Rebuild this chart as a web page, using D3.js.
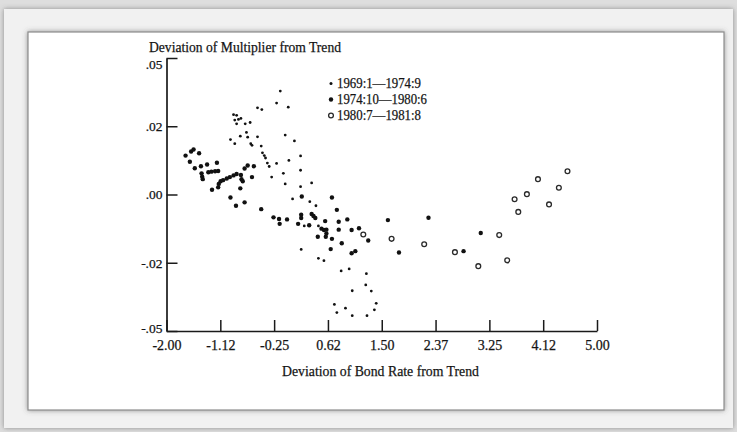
<!DOCTYPE html>
<html>
<head>
<meta charset="utf-8">
<script src="https://cdn.jsdelivr.net/npm/d3@7"></script>
<style>
  html, body { margin: 0; padding: 0; background: #dedede; }
  svg { display: block; }
  .axis path, .axis line { stroke: #1a1a1a; }
  .axis path { stroke-width: 1.7; }
  .axis line { stroke-width: 1.5; }
  .axis text, .title, .legend text {
    fill: #141414;
    stroke: #141414;
    stroke-width: 0.25;
    font-family: "Liberation Serif", "Times New Roman", serif;
  }
</style>
</head>
<body>
<svg id="chart" width="737" height="432"></svg>
<script>
// x: deviation of bond rate from trend, y: deviation of multiplier from trend
var early = [ // 1969:1-1974:9, small dots
  [-0.15, 0.0303], [-0.21, 0.0268], [-0.02, 0.0256], [-0.52, 0.0254], [-0.45, 0.0249],
  [-0.91, 0.0234], [-0.86, 0.0232], [-0.89, 0.0218], [-0.83, 0.0220], [-0.79, 0.0223],
  [-0.86, 0.0207], [-0.72, 0.0207], [-0.64, 0.0211], [-0.96, 0.0161], [-0.89, 0.0149],
  [-0.80, 0.0171], [-0.70, 0.0182], [-0.68, 0.0168], [-0.52, 0.0169], [-0.63, 0.0149],
  [-0.61, 0.0144], [-0.46, 0.0142], [-0.07, 0.0174], [0.08, 0.0157], [-0.44, 0.0122],
  [-0.41, 0.0114], [-0.39, 0.0107], [-0.36, 0.0092], [-0.33, 0.0082], [-0.21, 0.0091],
  [-0.29, 0.0051], [-0.10, 0.0062], [-0.07, 0.0031], [-0.01, 0.0100], [0.18, 0.0113],
  [0.18, 0.0071], [0.18, 0.0023], [0.36, 0.0034], [0.05, -0.0013], [0.33, -0.0021],
  [0.43, -0.0033], [0.24, -0.0092], [0.47, -0.0092], [0.19, -0.0161], [0.47, -0.0187],
  [0.56, -0.0194], [0.84, -0.0224], [0.97, -0.0218], [1.25, -0.0232], [1.24, -0.0265],
  [1.02, -0.0282], [1.33, -0.0283], [0.73, -0.0322], [0.77, -0.0346], [0.91, -0.0333],
  [1.02, -0.0355], [1.26, -0.0355], [1.38, -0.0338], [1.41, -0.0319]
];

var middle = [ // 1974:10-1980:6, large dots
  [-1.69, 0.0114], [-1.62, 0.0096], [-1.60, 0.0126], [-1.56, 0.0132], [-1.47, 0.0121],
  [-1.54, 0.0077], [-1.44, 0.0083], [-1.34, 0.0088], [-1.18, 0.0093], [-1.43, 0.0062],
  [-1.42, 0.0052], [-1.41, 0.0045], [-1.32, 0.0065], [-1.27, 0.0067], [-1.21, 0.0068],
  [-1.16, 0.0069], [-1.26, 0.0014], [-1.16, 0.0021], [-1.15, 0.0031], [-1.12, 0.0039],
  [-1.08, 0.0042], [-1.02, 0.0047], [-0.97, 0.0051], [-0.91, 0.0056], [-0.86, 0.0060],
  [-0.79, 0.0057], [-0.78, 0.0045], [-0.76, 0.0039], [-0.80, 0.0018], [-0.73, 0.0076],
  [-0.68, 0.0085], [-0.58, 0.0083], [-0.61, 0.0051], [-0.96, -0.0009], [-0.87, -0.0033],
  [-0.73, -0.0023], [-0.46, -0.0043], [-0.26, -0.0067], [-0.17, -0.0072], [-0.16, -0.0086],
  [-0.04, -0.0073], [0.14, -0.0086], [0.19, -0.0059], [0.19, -0.0069], [0.20, -0.0006],
  [0.32, -0.0090], [0.36, -0.0057], [0.39, -0.0063], [0.42, -0.0069], [0.58, -0.0078],
  [0.52, -0.0100], [0.56, -0.0104], [0.60, -0.0103], [0.60, -0.0114], [0.46, -0.0124],
  [0.59, -0.0124], [0.69, -0.0130], [0.69, -0.0009], [0.77, -0.0045], [0.80, -0.0080],
  [0.80, -0.0103], [0.85, -0.0143], [0.94, -0.0073], [1.01, -0.0104], [1.13, -0.0099],
  [1.28, -0.0135], [0.67, -0.0160], [1.01, -0.0172], [1.07, -0.0166], [1.60, -0.0075],
  [1.78, -0.0170], [2.26, -0.0068], [2.83, -0.0166], [3.11, -0.0113]
];

var late = [ // 1980:7-1981:8, open circles
  [1.20, -0.0117], [1.66, -0.0130], [2.19, -0.0146], [2.69, -0.0169], [3.07, -0.0210],
  [3.41, -0.0119], [3.54, -0.0193], [3.66, -0.0014], [3.72, -0.0051], [3.86, 0.0001],
  [4.04, 0.0045], [4.22, -0.0029], [4.38, 0.0020], [4.52, 0.0068]
];

var xTicks = [-2, -1.125, -0.25, 0.625, 1.5, 2.375, 3.25, 4.125, 5];
var xTickLabels = ['-2.00', '-1.12', '-0.25', '0.62', '1.50', '2.37', '3.25', '4.12', '5.00'];
var yTicks = [-0.04, -0.02, 0, 0.02, 0.04];
var yTickLabels = ['-.05', '-.02', '.00', '.02', '.05'];
var legendLabels = ['1969:1\u20141974:9', '1974:10\u20141980:6', '1980:7\u20141981:8'];

var svg = d3.select('#chart');

// ----- frame -----------------------------------------------------------------
var defs = svg.append('defs');
var shadow = defs.append('filter').attr('id', 'shadow')
    .attr('x', '-5%').attr('y', '-5%').attr('width', '110%').attr('height', '110%');
shadow.append('feDropShadow').attr('dx', 0).attr('dy', 0)
    .attr('stdDeviation', 2.5).attr('flood-color', '#555').attr('flood-opacity', 0.6);

svg.append('rect').attr('width', 737).attr('height', 432).attr('fill', '#dedede');
svg.append('rect')
    .attr('x', 4).attr('y', 9).attr('width', 729).attr('height', 419)
    .attr('fill', '#f1f1f1').attr('filter', 'url(#shadow)');
svg.append('rect')
    .attr('x', 28).attr('y', 32).attr('width', 696).attr('height', 378)
    .attr('fill', '#fff').attr('stroke', '#8c8c8c').attr('stroke-width', 1.2)
    .attr('filter', 'url(#shadow)');

// ----- chart -----------------------------------------------------------------
var margin = { top: 58, left: 166.5 };
var width = 430.5;
var height = 273;

var x = d3.scaleLinear().domain([-2, 5]).range([0, width]);
var y = d3.scaleLinear().domain([-0.04, 0.04]).range([height, 0]);

var g = svg.append('g')
    .attr('transform', 'translate(' + margin.left + ',' + margin.top + ')');

g.append('g')
    .attr('class', 'x axis')
    .attr('transform', 'translate(0,' + height + ')')
    .call(d3.axisBottom(x)
      .tickValues(xTicks)
      .tickFormat((d, i) => xTickLabels[i])
      .tickSizeInner(-11)
      .tickSizeOuter(0)
      .tickPadding(9))
  .selectAll('text')
    .attr('font-size', 14);

// end labels sit a little inside the axis, as in the scan
var yLabelShift = { '-0.04': -3, '0.04': 6 };

g.append('g')
    .attr('class', 'y axis')
    .call(d3.axisLeft(y)
      .tickValues(yTicks)
      .tickFormat((d, i) => yTickLabels[i])
      .tickSizeInner(-11)
      .tickSizeOuter(0)
      .tickPadding(4))
  .selectAll('text')
    .attr('font-size', 13.5)
    .attr('y', (d) => yLabelShift[d] || 0);

g.selectAll('.early')
    .data(early)
  .enter().append('circle')
    .attr('class', 'early')
    .attr('cx', (d) => x(d[0]))
    .attr('cy', (d) => y(d[1]))
    .attr('r', 1.4)
    .attr('fill', '#111');

g.selectAll('.middle')
    .data(middle)
  .enter().append('circle')
    .attr('class', 'middle')
    .attr('cx', (d) => x(d[0]))
    .attr('cy', (d) => y(d[1]))
    .attr('r', 2.2)
    .attr('fill', '#111');

g.selectAll('.late')
    .data(late)
  .enter().append('circle')
    .attr('class', 'late')
    .attr('cx', (d) => x(d[0]))
    .attr('cy', (d) => y(d[1]))
    .attr('r', 2.4)
    .attr('fill', 'none')
    .attr('stroke', '#2a2a2a')
    .attr('stroke-width', 1.3);

// ----- titles ----------------------------------------------------------------
svg.append('text')
    .attr('class', 'title')
    .attr('x', 149).attr('y', 52)
    .attr('font-size', 15)
    .attr('textLength', 192).attr('lengthAdjust', 'spacingAndGlyphs')
    .text('Deviation of Multiplier from Trend');

svg.append('text')
    .attr('class', 'title')
    .attr('x', 282).attr('y', 376)
    .attr('font-size', 15.5)
    .attr('textLength', 197).attr('lengthAdjust', 'spacingAndGlyphs')
    .text('Deviation of Bond Rate from Trend');

// ----- legend ----------------------------------------------------------------
var legend = svg.append('g').attr('class', 'legend');
var legendRows = legend.selectAll('g')
    .data(legendLabels)
  .enter().append('g')
    .attr('transform', (d, i) => 'translate(0,' + (88 + i * 16) + ')');

legendRows.append('circle')
    .attr('cx', 331).attr('cy', -4.5)
    .attr('r', (d, i) => [1.5, 2.2, 2.4][i])
    .attr('fill', (d, i) => i === 2 ? 'none' : '#111')
    .attr('stroke', (d, i) => i === 2 ? '#2a2a2a' : 'none')
    .attr('stroke-width', 1.3);

legendRows.append('text')
    .attr('x', 337)
    .attr('font-size', 14.5)
    .attr('textLength', (d, i) => [84, 90, 84][i])
    .attr('lengthAdjust', 'spacingAndGlyphs')
    .text((d) => d);
</script>
</body>
</html>
